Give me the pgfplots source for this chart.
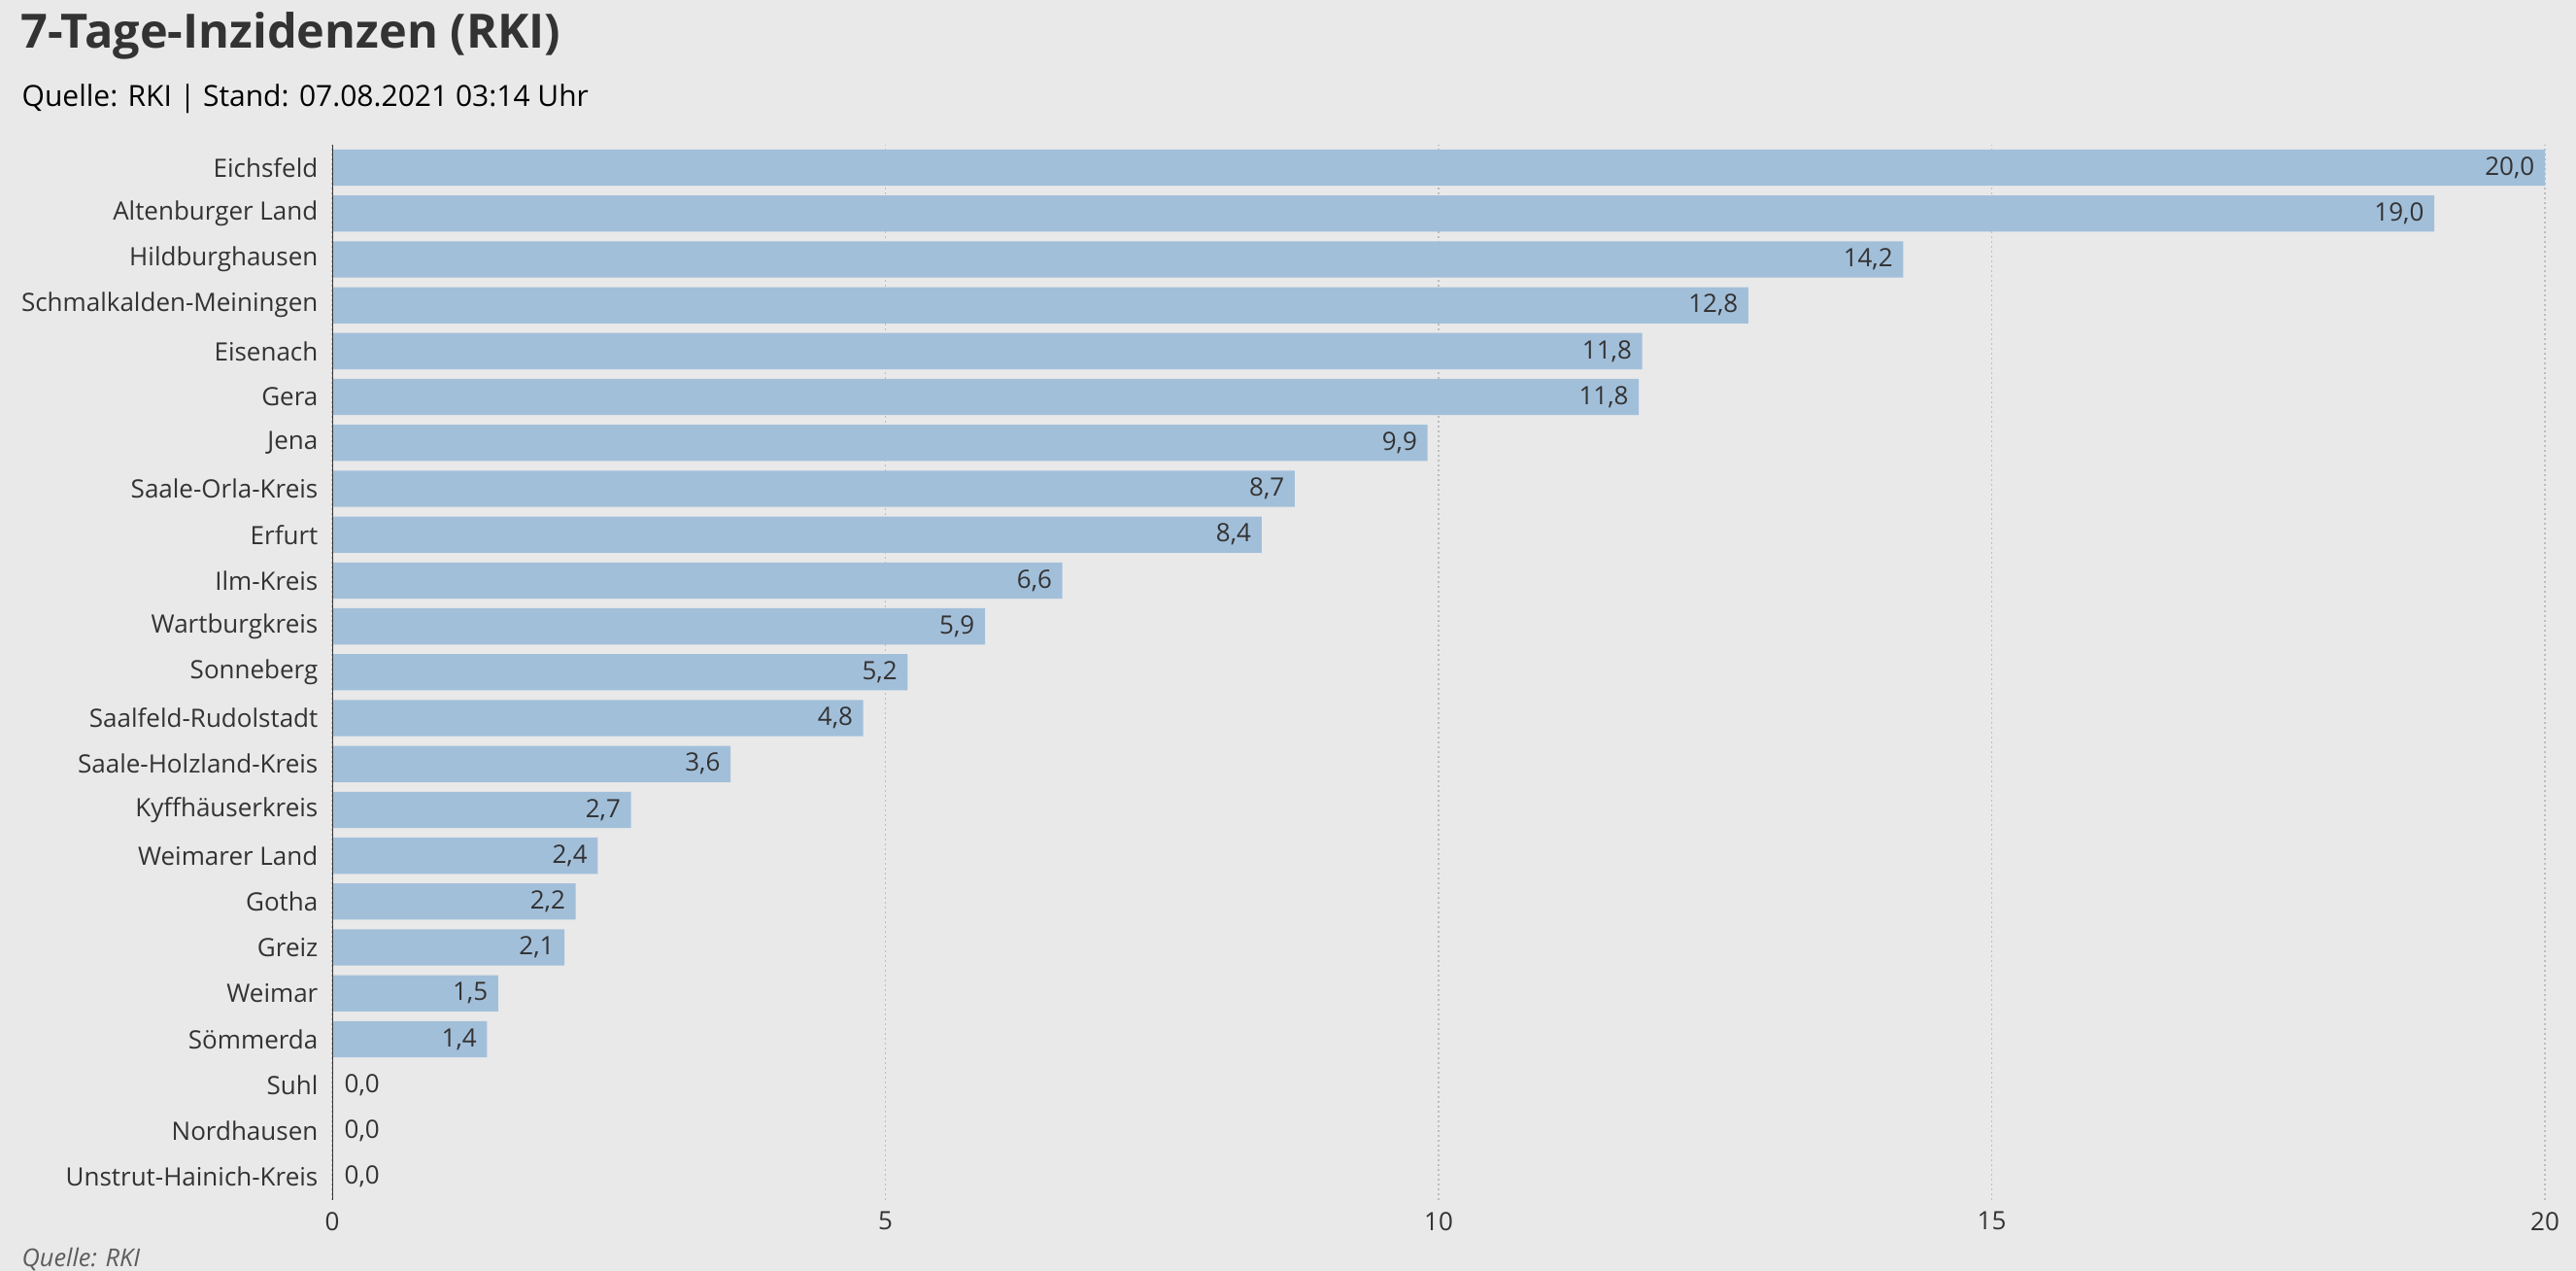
\documentclass[border=0pt]{standalone}
\usepackage{pgfplots}
\pgfplotsset{compat=1.18}
\usepackage{fontspec}
\setmainfont{Open Sans}
\definecolor{bg}{HTML}{E9E9E9}
\definecolor{barcol}{HTML}{A2BFDA}
\definecolor{txt}{HTML}{333333}
\definecolor{gridcol}{HTML}{BDBDBD}
\begin{document}
\begin{tikzpicture}
\path[use as bounding box, fill=bg] (0,0) rectangle (795.6pt,392.4pt);
\node[anchor=base west, inner sep=0pt, text=txt, font=\fontsize{14.6}{17}\selectfont\bfseries] at (6.2pt,377.4pt) {7-Tage-Inzidenzen (RKI)};
\node[anchor=base west, inner sep=0pt, text=black, font=\fontsize{9}{11}\selectfont] at (6.6pt,359.6pt) {Quelle: RKI | Stand: 07.08.2021 03:14 Uhr};
\node[anchor=base west, inner sep=0pt, text=txt!80, font=\fontsize{7.6}{9}\selectfont\itshape] at (6.6pt,1.2pt) {Quelle: RKI};
\begin{axis}[
  at={(102.6pt,22pt)}, anchor=south west,
  scale only axis, width=683.4pt, height=325.7pt,
  xmin=0, xmax=20, ymin=-0.5, ymax=22.5,
  axis line style={draw=none},
  xtick={0,5,10,15,20},
  xmajorgrids, grid style={gridcol, line width=0.35pt, dash pattern=on 0.6pt off 0.9pt},
  major tick length=0pt,
  ytick={0,...,22},
  yticklabels={Unstrut-Hainich-Kreis,Nordhausen,Suhl,Sömmerda,Weimar,Greiz,Gotha,Weimarer Land,Kyffhäuserkreis,Saale-Holzland-Kreis,Saalfeld-Rudolstadt,Sonneberg,Wartburgkreis,Ilm-Kreis,Erfurt,Saale-Orla-Kreis,Jena,Gera,Eisenach,Schmalkalden-Meiningen,Hildburghausen,Altenburger Land,Eichsfeld},
  yticklabel style={font=\fontsize{7.8}{10}\selectfont, text=txt, inner sep=0pt, anchor=east, xshift=-4.2pt},
  xticklabel style={font=\fontsize{7.8}{10}\selectfont, text=txt, inner sep=0pt, anchor=north, yshift=-3.6pt},
  /pgf/number format/assume math mode=true,
  xbar, bar width=0.79, bar shift=0pt,
  point meta=x,
  nodes near coords={\pgfmathprintnumber[fixed,fixed zerofill,precision=1,use comma]{\pgfplotspointmeta}},
  nodes near coords style={font=\fontsize{7.8}{10}\selectfont, text=txt, inner sep=0pt},
]
\addplot[fill=barcol, draw=none, bar shift=0pt, every node near coord/.append style={anchor=east, xshift=-3pt}] coordinates {
(20.0,22) (19.0,21) (14.2,20) (12.8,19) (11.84,18) (11.81,17) (9.9,16) (8.7,15) (8.4,14) (6.6,13) (5.9,12) (5.2,11) (4.8,10) (3.6,9) (2.7,8) (2.4,7) (2.2,6) (2.1,5) (1.5,4) (1.4,3)
};
\addplot[fill=barcol, draw=none, bar shift=0pt, every node near coord/.append style={anchor=west, xshift=3.6pt}] coordinates {
(0,2) (0,1) (0,0)
};
\draw[txt, line width=0.45pt] (axis cs:0,-0.5) -- (axis cs:0,22.5);
\end{axis}
\end{tikzpicture}
\end{document}
